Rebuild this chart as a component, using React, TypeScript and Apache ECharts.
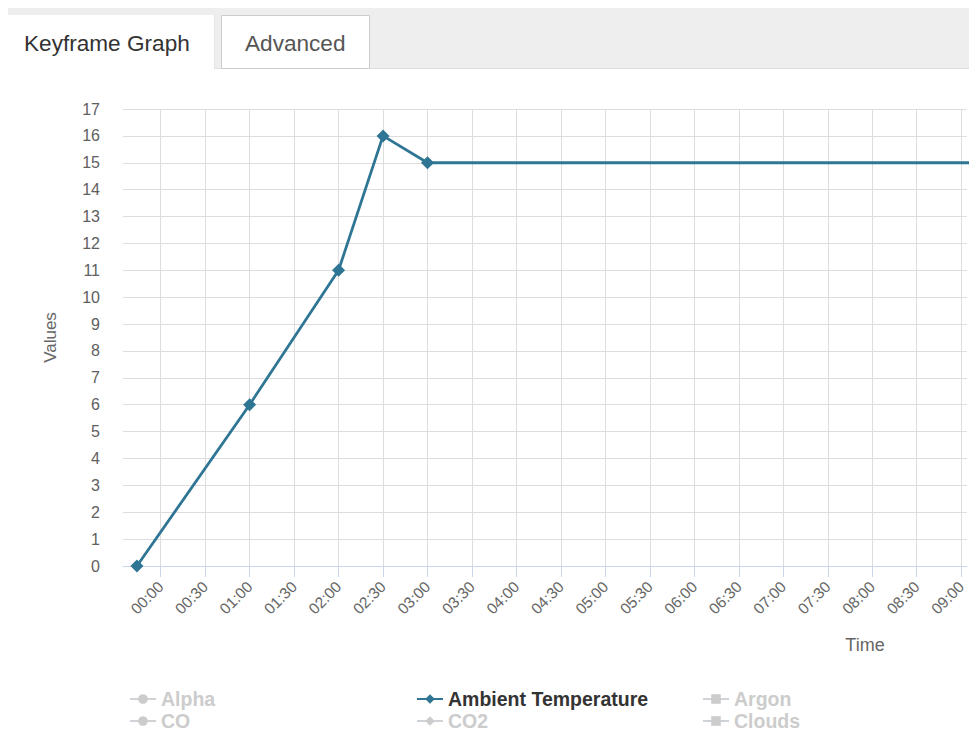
import React, { useEffect, useRef } from "react";
import * as echarts from "echarts";

// ---- data (minutes from 00:00, value) ----
const timeTickMinutes = [0, 30, 60, 90, 120, 150, 180, 210, 240, 270, 300, 330, 360, 390, 420, 450, 480, 510, 540];
const yTicks = [0, 1, 2, 3, 4, 5, 6, 7, 8, 9, 10, 11, 12, 13, 14, 15, 16, 17];
const ambientTimes = [-16, 60, 120, 150, 180, 720];
const ambientValues = [0, 6, 11, 16, 15, 15];
const legendColumns = [
  ["Alpha", "CO"],
  ["Ambient Temperature", "CO2"],
  ["Argon", "Clouds"],
];
const hiddenSeries = ["Alpha", "CO", "CO2", "Argon", "Clouds"];
const seriesSymbols: Record<string, string> = {
  Alpha: "circle",
  CO: "circle",
  "Ambient Temperature": "diamond",
  CO2: "diamond",
  Argon: "rect",
  Clouds: "rect",
};
const tabLabels = ["Keyframe Graph", "Advanced"];

const FONT = "'Liberation Sans', Arial, Helvetica, sans-serif";
const LINE_COLOR = "#2f7594";

function fmt(m: number) {
  const h = Math.floor(m / 60);
  const mm = m % 60;
  return String(h).padStart(2, "0") + ":" + String(mm).padStart(2, "0");
}

export default function App() {
  const ref = useRef<HTMLDivElement>(null);
  useEffect(() => {
    if (!ref.current) return;
    const chart = echarts.init(ref.current, undefined, { renderer: "svg" });
    const ambientData = ambientTimes.map((t, i) => [t, ambientValues[i]]);
    const allNames = ["Alpha", "Ambient Temperature", "Argon", "CO", "CO2", "Clouds"];
    const selected: Record<string, boolean> = {};
    allNames.forEach((n) => (selected[n] = !hiddenSeries.includes(n)));

    const legendLefts = [129, 416, 702];
    const rowCenters = [699, 721];
    const legends: any[] = [];
    legendColumns.forEach((col, i) => {
      col.forEach((name, r) => {
        legends.push({
          orient: "horizontal",
          left: legendLefts[i],
          top: rowCenters[r] - 11,
          padding: 0,
          itemWidth: 26,
          itemHeight: 12,
          data: [name],
          selected,
          inactiveColor: "#cccccc",
          textStyle: {
            fontFamily: FONT,
            fontSize: 19.5,
            lineHeight: 22,
            fontWeight: "bold",
            color: "#333333",
          },
        });
      });
    });

    const series: any[] = allNames.map((name) => ({
      name,
      type: "line",
      symbol: seriesSymbols[name],
      symbolSize: 13,
      data: name === "Ambient Temperature" ? ambientData : [],
      lineStyle: { width: 2.8, color: name === "Ambient Temperature" ? LINE_COLOR : "#7cb5ec" },
      itemStyle: { color: name === "Ambient Temperature" ? LINE_COLOR : "#7cb5ec" },
      clip: true,
    }));

    chart.setOption({
      animation: false,
      grid: { left: 123, right: 0, top: 109, bottom: 731 - 566, containLabel: false },
      xAxis: {
        type: "value",
        min: -25.4,
        max: 543.6,
        axisLine: { show: true, lineStyle: { color: "#ccd6eb", width: 1 } },
        axisTick: { show: true, length: 11, lineStyle: { color: "#ccd6eb" }, customValues: timeTickMinutes },
        axisLabel: {
          customValues: timeTickMinutes,
          rotate: 45,
          margin: 18,
          formatter: (v: number) => fmt(v),
          fontFamily: FONT,
          fontSize: 15.5,
          color: "#666666",
        },
        splitLine: { show: true, lineStyle: { color: "#dddddd", width: 1 } },
      },
      yAxis: {
        type: "value",
        min: yTicks[0],
        max: yTicks[yTicks.length - 1],
        interval: 1,
        name: "Values",
        nameLocation: "middle",
        nameGap: 64,
        nameTextStyle: { fontFamily: FONT, fontSize: 17, color: "#666666" },
        axisLine: { show: false },
        axisTick: { show: false },
        axisLabel: { margin: 23, fontFamily: FONT, fontSize: 16, color: "#606060" },
        splitLine: { show: true, lineStyle: { color: "#dddddd", width: 1 } },
      },
      legend: legends,
      series,
      graphic: [
        { type: "rect", shape: { x: 8, y: 8, width: 961, height: 61 }, style: { fill: "#eeeeee" }, silent: true },
        { type: "line", shape: { x1: 214, y1: 68.5, x2: 969, y2: 68.5 }, style: { stroke: "#dddddd", lineWidth: 1 }, silent: true },
        { type: "rect", shape: { x: 8, y: 15, width: 206, height: 56 }, style: { fill: "#ffffff" }, silent: true },
        { type: "line", shape: { x1: 214.5, y1: 15, x2: 214.5, y2: 69 }, style: { stroke: "#e6e6e6", lineWidth: 1 }, silent: true },
        { type: "rect", shape: { x: 221.5, y: 15.5, width: 148, height: 53 }, style: { fill: "#ffffff", stroke: "#cccccc", lineWidth: 1 }, silent: true },
        { type: "text", x: 24, y: 43, style: { text: tabLabels[0], font: `22.6px ${FONT}`, fill: "#333333", textVerticalAlign: "middle" }, silent: true },
        { type: "text", x: 245, y: 43, style: { text: tabLabels[1], font: `22.6px ${FONT}`, fill: "#555555", textVerticalAlign: "middle" }, silent: true },
        { type: "text", x: 865, y: 645, style: { text: "Time", font: `18px ${FONT}`, fill: "#666666", textAlign: "center", textVerticalAlign: "middle" }, silent: true },
      ],
    });
    return () => chart.dispose();
  }, []);
  return (
    <div
      ref={ref}
      style={{ position: "absolute", left: 0, top: 0, width: 969, height: 731, background: "#ffffff" }}
    />
  );
}
